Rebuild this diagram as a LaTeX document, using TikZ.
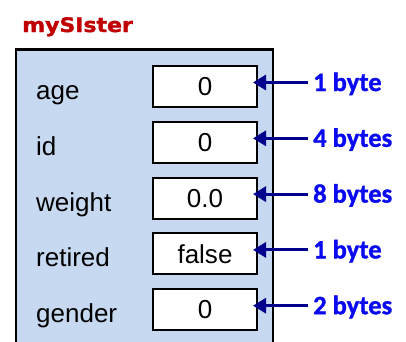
\documentclass[tikz,border=0pt]{standalone}
\usepackage{fontspec}
\setmainfont{Liberation Sans}
\newfontfamily\bytefont{Carlito}[BoldFeatures={FakeBold=1.2}]
\newfontfamily\titlefont{DejaVu Sans}[BoldFeatures={FakeBold=1.5}]
\usetikzlibrary{arrows.meta}
\definecolor{boxfill}{RGB}{198,217,241}
\definecolor{arrnavy}{RGB}{0,0,140}
\definecolor{bytecol}{RGB}{10,10,240}
\definecolor{titlered}{RGB}{192,0,0}
\begin{document}
\begin{tikzpicture}[x=1pt,y=-1pt,
  field/.style={font=\fontsize{26}{30}\selectfont, anchor=base west, inner sep=0pt},
  valbox/.style={draw, line width=2pt, fill=white, minimum width=104pt, minimum height=41pt, inner sep=0pt, outer sep=0pt, font=\fontsize{26}{30}\selectfont},
  bytelbl/.style={font=\bytefont\bfseries\fontsize{26.5}{30}\selectfont, text=bytecol, anchor=west, inner sep=0pt, text height=17pt, text depth=0pt},
  arr/.style={draw=arrnavy, line width=3pt, -{Triangle[length=13pt,width=15pt]}, shorten >=-4pt}]
\useasboundingbox (0,0) rectangle (406,341);
\fill[boxfill] (16,49.5) rectangle (273,343);
\draw[line width=2.5pt] (16,343) -- (16,49.5) -- (273,49.5) -- (273,343);
\node[font=\titlefont\bfseries\fontsize{20}{24}\selectfont, text=titlered, anchor=base west, inner sep=0pt, xscale=1.1] (title) at (22,32) {mySIster};
\foreach \i/\c/\lab/\val/\bytes in {1/86.5/age/0/1 byte, 2/142.3/id/0/4 bytes, 3/198.1/weight/0.0/8 bytes, 4/253.9/retired/false/1 byte, 5/309.7/gender/0/2 bytes}{
  \node[field] (f\i) at (36,\c+13) {\lab};
  \node[valbox] (b\i) at (205,\c) {\val};
  \node[bytelbl] (l\i) at (313,\c-4) {\bytes};
  \draw[arr] ([xshift=-5pt]l\i.west) -- (b\i.east |- l\i.west);
}
\end{tikzpicture}
\end{document}
